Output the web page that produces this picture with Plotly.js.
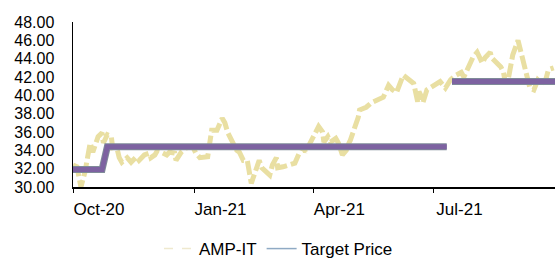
<!DOCTYPE html>
<html>
<head>
<meta charset="utf-8">
<script src="https://cdn.plot.ly/plotly-3.0.1.min.js"></script>
<style>html,body{margin:0;padding:0;background:#fff;}#chart{width:555px;height:259px;}</style>
</head>
<body>
<div id="chart"></div>
<script>
// AMP-IT share price
const priceDates = [
"2020-10-01","2020-10-04","2020-10-07","2020-10-10","2020-10-13","2020-10-14","2020-10-16","2020-10-20","2020-10-23","2020-10-24",
"2020-10-27","2020-10-30","2020-10-31","2020-11-03","2020-11-05","2020-11-07","2020-11-11","2020-11-14","2020-11-18","2020-11-20",
"2020-11-24","2020-11-28","2020-11-29","2020-12-02","2020-12-04","2020-12-07","2020-12-11","2020-12-13","2020-12-17","2020-12-18",
"2020-12-22","2020-12-26","2020-12-31","2021-01-02","2021-01-05","2021-01-11","2021-01-14","2021-01-18","2021-01-22","2021-01-24",
"2021-01-26","2021-02-02","2021-02-04","2021-02-07","2021-02-10","2021-02-13","2021-02-16","2021-02-18","2021-02-19","2021-02-21",
"2021-02-27","2021-03-01","2021-03-04","2021-03-05","2021-03-09","2021-03-18","2021-03-20","2021-03-24","2021-03-26","2021-04-01",
"2021-04-05","2021-04-08","2021-04-09","2021-04-12","2021-04-14","2021-04-18","2021-04-20","2021-04-23","2021-04-26","2021-04-28",
"2021-04-29","2021-05-05","2021-05-06","2021-05-11","2021-05-15","2021-05-24","2021-05-28","2021-05-31","2021-06-03","2021-06-08",
"2021-06-12","2021-06-16","2021-06-19","2021-06-20","2021-06-22","2021-06-23","2021-06-26","2021-06-30","2021-07-04","2021-07-06",
"2021-07-10","2021-07-14","2021-07-18","2021-07-22","2021-07-24","2021-07-31","2021-08-03","2021-08-05","2021-08-07","2021-08-09",
"2021-08-13","2021-08-14","2021-08-21","2021-08-23","2021-08-24","2021-08-26","2021-08-30","2021-09-03","2021-09-05","2021-09-06",
"2021-09-07","2021-09-10","2021-09-12","2021-09-15","2021-09-18","2021-09-21","2021-09-24","2021-09-26","2021-09-30"
];
const priceValues = [
32.4,32.2,30.0,31.6,34.0,34.8,33.8,35.5,35.9,34.8,
35.7,35.5,34.3,34.4,33.2,32.7,33.2,32.7,33.3,32.9,
33.5,33.7,33.2,33.5,34.0,33.8,33.5,33.8,33.7,32.9,
33.8,34.3,34.3,33.7,33.2,33.3,36.2,36.2,37.5,37.0,
36.0,34.0,33.8,32.9,32.9,30.4,31.5,32.2,32.9,32.1,
31.3,32.4,33.2,32.1,32.2,32.6,33.2,34.6,33.8,35.5,
36.6,36.0,34.9,35.5,34.9,35.3,34.8,33.5,34.0,34.8,
35.1,37.6,38.4,38.7,39.2,39.8,41.1,40.6,40.3,42.2,
41.7,41.3,39.3,40.4,39.8,39.2,40.6,40.9,41.3,41.5,
40.8,41.7,42.2,42.5,42.0,44.2,44.7,44.1,43.5,44.1,
44.7,44.1,43.1,42.5,41.7,41.3,44.4,46.0,44.9,44.2,
43.3,41.7,40.8,40.6,41.7,41.3,41.7,42.8,43.0
];
// Target price (step line, gap in July 2021)
const targetDates = ["2020-10-01","2020-10-23","2020-10-27","2021-07-11","2021-07-13","2021-07-15","2021-10-01"];
const targetValues = [31.9,31.9,34.4,34.4,null,41.5,41.5];

const tickDates = ["2020-10-01","2021-01-01","2021-04-01","2021-07-01","2021-10-01"];
const tickLabels = ["Oct-20","Jan-21","Apr-21","Jul-21",""];
const yTicks = [30,32,34,36,38,40,42,44,46,48];
const seriesNames = ["AMP-IT","Target Price"];

const FONT = "Liberation Sans, Arial, sans-serif";

const traces = [
  {x: priceDates, y: priceValues, type: "scatter", mode: "lines", showlegend: false,
   line: {color: "#E9DFA2", width: 5, dash: "14px,4px"}, hoverinfo: "skip"},
  {x: targetDates, y: targetValues, type: "scatter", mode: "lines", showlegend: false, connectgaps: false,
   line: {color: "#7F8B99", width: 7}, hoverinfo: "skip"},
  {x: targetDates, y: targetValues, type: "scatter", mode: "lines", showlegend: false, connectgaps: false,
   line: {color: "#7D62A1", width: 5}, hoverinfo: "skip"},
  {x: [null], y: [null], type: "scatter", mode: "lines", name: seriesNames[0],
   line: {color: "#EFE9CF", width: 1.5, dash: "dash"}},
  {x: [null], y: [null], type: "scatter", mode: "lines", name: seriesNames[1],
   line: {color: "#8FAAC4", width: 1.5}}
];

const layout = {
  width: 555, height: 259,
  margin: {l: 73, r: 0, t: 22, b: 72},
  paper_bgcolor: "#fff", plot_bgcolor: "#fff",
  font: {family: FONT, size: 17, color: "#000"},
  showlegend: true,
  legend: {orientation: "h", xref: "container", yref: "container", x: 0.2865, xanchor: "left",
           y: 0.108, yanchor: "top",
           font: {family: FONT, size: 17, color: "#000"}, bgcolor: "rgba(0,0,0,0)", traceorder: "normal"},
  xaxis: {type: "date", range: ["2020-10-01", "2021-10-01"], tickmode: "array",
          tickvals: tickDates, ticktext: tickLabels, ticks: "outside", ticklen: 4, tickcolor: "#000",
          ticklabelshift: 26, ticklabelstandoff: 2, showline: true, linecolor: "#000", linewidth: 1.5, showgrid: false,
          zeroline: false, tickfont: {family: FONT, size: 17, color: "#000"}},
  yaxis: {range: [30, 48], tickmode: "array", tickvals: yTicks,
          ticktext: yTicks.map(v => v.toFixed(2)), ticks: "", ticklabelstandoff: 14,
          showline: true, linecolor: "#000", linewidth: 1.5, showgrid: false, zeroline: false,
          tickfont: {family: FONT, size: 16, color: "#000"}}
};

Plotly.newPlot("chart", traces, layout, {displayModeBar: false, staticPlot: true});
</script>
</body>
</html>
